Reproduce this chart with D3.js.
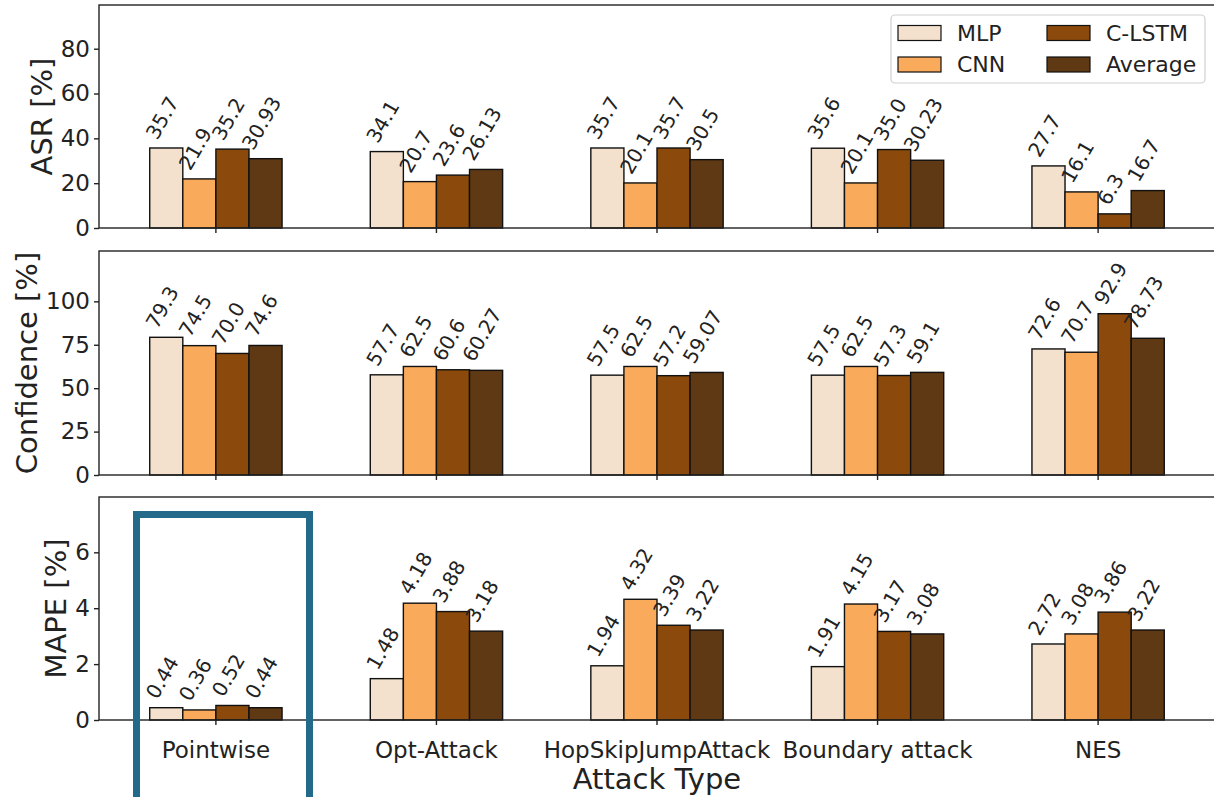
<!DOCTYPE html>
<html>
<head>
<meta charset="utf-8">
<script src="https://cdn.jsdelivr.net/npm/d3@7/dist/d3.min.js"></script>
<style>
  html, body { margin: 0; padding: 0; background: #fff; }
  svg { display: block; font-family: "DejaVu Sans", sans-serif; }
</style>
</head>
<body>
<svg id="chart" width="1214" height="797"></svg>
<script>
// Attack types on the shared x axis
const attacks = ["Pointwise", "Opt-Attack", "HopSkipJumpAttack", "Boundary attack", "NES"];
// Model series (one bar per model inside each attack group)
const models = ["MLP", "CNN", "C-LSTM", "Average"];

// Attack success rate [%]
const asrMLP   = [35.7, 34.1, 35.7, 35.6, 27.7];
const asrCNN   = [21.9, 20.7, 20.1, 20.1, 16.1];
const asrCLSTM = [35.2, 23.6, 35.7, 35.0, 6.3];
const asrAvg   = [30.93, 26.13, 30.5, 30.23, 16.7];

// Confidence [%]
const confMLP   = [79.3, 57.7, 57.5, 57.5, 72.6];
const confCNN   = [74.5, 62.5, 62.5, 62.5, 70.7];
const confCLSTM = [70.0, 60.6, 57.2, 57.3, 92.9];
const confAvg   = [74.6, 60.27, 59.07, 59.1, 78.73];

// MAPE [%]
const mapeMLP   = [0.44, 1.48, 1.94, 1.91, 2.72];
const mapeCNN   = [0.36, 4.18, 4.32, 4.15, 3.08];
const mapeCLSTM = [0.52, 3.88, 3.39, 3.17, 3.86];
const mapeAvg   = [0.44, 3.18, 3.22, 3.08, 3.22];

// Y tick labels per panel
const asrTicks  = [0, 20, 40, 60, 80];
const confTicks = [0, 25, 50, 75, 100];
const mapeTicks = [0, 2, 4, 6];

const colors = ["#f3e1cd", "#f9ab5b", "#8b4a0b", "#5f3913"];

const panels = [
  { label: "ASR [%]",        series: [asrMLP, asrCNN, asrCLSTM, asrAvg],     ticks: asrTicks,  ymax: 99.5, top: 5,   bottom: 228 },
  { label: "Confidence [%]", series: [confMLP, confCNN, confCLSTM, confAvg], ticks: confTicks, ymax: 129,  top: 251, bottom: 475 },
  { label: "MAPE [%]",       series: [mapeMLP, mapeCNN, mapeCLSTM, mapeAvg], ticks: mapeTicks, ymax: 7.98, top: 497, bottom: 720 }
];

const left = 99, right = 1215;
const svg = d3.select("#chart");

const x = d3.scaleBand().domain(attacks).range([left, right]).paddingInner(0.4).paddingOuter(0.23);
const xs = d3.scaleBand().domain(models).range([0, x.bandwidth()]).padding(0);

// Python-style float text: integers keep one decimal
const fmt = v => Number.isInteger(v) ? v.toFixed(1) : String(v);

const labelFont = 20;
const tickFont = 23;
const rad = Math.PI / 3;

panels.forEach((p, pi) => {
  const y = d3.scaleLinear().domain([0, p.ymax]).range([p.bottom, p.top]);
  const g = svg.append("g");

  // bars
  p.series.forEach((vals, si) => {
    g.selectAll(null)
      .data(vals)
      .join("rect")
      .attr("x", (d, i) => x(attacks[i]) + xs(models[si]))
      .attr("y", d => y(d))
      .attr("width", xs.bandwidth())
      .attr("height", d => y(0) - y(d))
      .attr("fill", colors[si])
      .attr("stroke", "#111")
      .attr("stroke-width", 1.4);
  });

  // rotated value labels, sitting on top of each bar
  p.series.forEach((vals, si) => {
    vals.forEach((v, i) => {
      const cx = x(attacks[i]) + xs(models[si]) + xs.bandwidth() / 2;
      const t = g.append("text")
        .attr("font-size", labelFont)
        .attr("fill", "#222")
        .attr("text-anchor", "middle")
        .attr("dominant-baseline", "central")
        .text(fmt(v));
      const L = t.node().getComputedTextLength();
      const h = labelFont * 1.17;
      const H = L * Math.sin(rad) + h * Math.cos(rad);
      const cy = y(v) - 5 - H / 2;
      t.attr("transform", `translate(${cx - 4},${cy}) rotate(-60)`);
    });
  });

  // frame
  g.append("rect")
    .attr("x", left).attr("y", p.top)
    .attr("width", right - left).attr("height", p.bottom - p.top)
    .attr("fill", "none").attr("stroke", "#222").attr("stroke-width", 1.4);

  // y axis
  const ya = g.append("g")
    .attr("transform", `translate(${left},0)`)
    .call(d3.axisLeft(y).tickValues(p.ticks).tickSize(5).tickSizeOuter(0).tickPadding(4).tickFormat(d3.format("d")));
  ya.select(".domain").remove();
  ya.selectAll("line").attr("stroke", "#222").attr("stroke-width", 1.4);
  ya.selectAll("text").attr("font-size", tickFont).attr("fill", "#222").attr("font-family", "DejaVu Sans");

  // x axis ticks (labels only on the lowest panel)
  const xa = g.append("g")
    .attr("transform", `translate(0,${p.bottom})`)
    .call(d3.axisBottom(x).tickSize(5).tickSizeOuter(0).tickPadding(17));
  xa.select(".domain").remove();
  xa.selectAll("line").attr("stroke", "#222").attr("stroke-width", 1.4);
  xa.selectAll("text").attr("font-size", tickFont).attr("fill", "#222").attr("font-family", "DejaVu Sans");
  if (pi < panels.length - 1) xa.selectAll("text").remove();

  // y axis title, placed just left of the tick labels
  const tb = ya.node().getBBox();
  g.append("text")
    .attr("transform", `translate(${left + tb.x - 9},${(p.top + p.bottom) / 2}) rotate(-90)`)
    .attr("text-anchor", "middle")
    .attr("font-size", 29)
    .attr("fill", "#222")
    .text(p.label);
});

// x axis title
svg.append("text")
  .attr("x", (left + right) / 2)
  .attr("y", 789)
  .attr("text-anchor", "middle")
  .attr("font-size", 29)
  .attr("fill", "#222")
  .text("Attack Type");

// legend (two columns, filled column-wise)
const lg = svg.append("g");
lg.append("rect")
  .attr("x", 891).attr("y", 15).attr("width", 314).attr("height", 68)
  .attr("rx", 4).attr("fill", "#fff").attr("fill-opacity", 0.85)
  .attr("stroke", "#d0d0d0").attr("stroke-width", 1.2);
const colX = [898, 1047], rowY = [33, 64.5];
models.forEach((m, i) => {
  const cx = colX[Math.floor(i / 2)], cy = rowY[i % 2];
  lg.append("rect")
    .attr("x", cx).attr("y", cy - 7.5).attr("width", 43).attr("height", 15)
    .attr("fill", colors[i]).attr("stroke", "#111").attr("stroke-width", 1.2);
  lg.append("text")
    .attr("x", cx + 59).attr("y", cy)
    .attr("dominant-baseline", "central")
    .attr("font-size", 22).attr("fill", "#222")
    .text(m);
});

// highlight box around the Pointwise group
svg.append("rect")
  .attr("x", 136.5).attr("y", 514.5)
  .attr("width", 173).attr("height", 290)
  .attr("fill", "none").attr("stroke", "#236a8a").attr("stroke-width", 7);
</script>
</body>
</html>
